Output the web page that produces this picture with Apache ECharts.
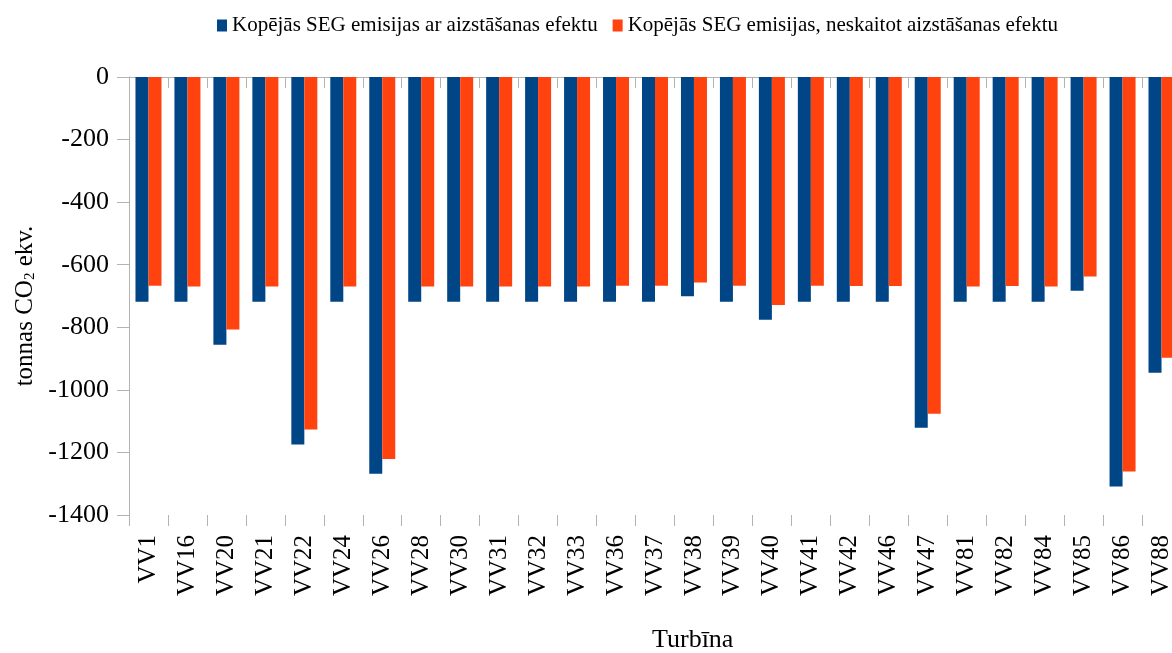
<!DOCTYPE html>
<html>
<head>
<meta charset="utf-8">
<script src="https://cdn.jsdelivr.net/npm/echarts@6/dist/echarts.min.js"></script>
<style>html,body{margin:0;padding:0;background:#fff}#c{width:1172px;height:653px}</style>
</head>
<body>
<div id="c"></div>
<script>
const categories = ['VV1','VV16','VV20','VV21','VV22','VV24','VV26','VV28','VV30','VV31','VV32','VV33','VV36','VV37','VV38','VV39','VV40','VV41','VV42','VV46','VV47','VV81','VV82','VV84','VV85','VV86','VV88'];
const withSubst = [-718,-718,-856,-718,-1175,-718,-1268,-718,-718,-718,-718,-718,-718,-718,-701,-718,-776,-718,-718,-718,-1121,-718,-718,-718,-683,-1309,-945];
const withoutSubst = [-667,-670,-807,-670,-1127,-670,-1221,-670,-670,-670,-670,-670,-667,-667,-657,-667,-729,-667,-668,-668,-1076,-670,-668,-670,-638,-1261,-897];
const seriesNames = ['Kopējās SEG emisijas ar aizstāšanas efektu','Kopējās SEG emisijas, neskaitot aizstāšanas efektu'];
const yTicks = {min: -1400, max: 0, interval: 200};

const font = '"Liberation Serif", "Times New Roman", serif';
const chart = echarts.init(document.getElementById('c'), null, {renderer: 'canvas'});
chart.setOption({
  animation: false,
  backgroundColor: '#ffffff',
  textStyle: {fontFamily: font},
  legend: {
    left: 212, top: 10,
    itemWidth: 10, itemHeight: 12, itemGap: 15,
    icon: 'rect',
    textStyle: {fontFamily: font, fontSize: 21, color: '#000'},
    data: seriesNames
  },
  grid: {left: 129, top: 77, height: 438, width: 1052, containLabel: false, outerBoundsMode: 'none'},
  xAxis: [{
    type: 'category', data: categories, position: 'bottom',
    axisLine: {show: false, onZero: false},
    axisTick: {show: true, length: 11, lineStyle: {color: '#b3b3b3'}},
    axisLabel: {rotate: 90, margin: 20, fontFamily: font, fontSize: 25, color: '#000', interval: 0}
  }, {
    type: 'category', data: categories, position: 'top',
    axisLine: {show: true, onZero: false, lineStyle: {color: '#b3b3b3'}},
    axisTick: {show: true, inside: true, length: 11, lineStyle: {color: '#b3b3b3'}},
    axisLabel: {show: false}
  }],
  yAxis: {
    type: 'value', min: yTicks.min, max: yTicks.max, interval: yTicks.interval,
    axisLine: {show: true, lineStyle: {color: '#b3b3b3'}},
    axisTick: {show: true, length: 12, lineStyle: {color: '#b3b3b3'}},
    splitLine: {show: false},
    axisLabel: {margin: 20, fontFamily: font, fontSize: 26, color: '#000',
      formatter: v => '{n|' + String(v) + '}',
      rich: {n: {fontFamily: font, fontSize: 26, color: '#000'}}},
    name: 'tonnas CO{sub|2} ekv.',
    nameLocation: 'middle', nameGap: 84,
    nameTextStyle: {fontFamily: font, fontSize: 25, color: '#000', padding: [0, 20, 0, 0],
      rich: {sub: {fontFamily: font, fontSize: 15, color: '#000', padding: [10, 0, 0, 0]}}}
  },
  graphic: [{
    type: 'text', left: 652, top: 627,
    style: {text: 'Turbīna', font: '26px "Liberation Serif"', fill: '#000'}
  }],
  series: [{
    name: seriesNames[0], type: 'bar', data: withSubst, xAxisIndex: 0,
    barWidth: 13, barGap: '0%', itemStyle: {color: '#004586'}
  }, {
    name: seriesNames[1], type: 'bar', data: withoutSubst, xAxisIndex: 0,
    barWidth: 13, barGap: '0%', itemStyle: {color: '#ff420e'}
  }]
});
</script>
</body>
</html>
